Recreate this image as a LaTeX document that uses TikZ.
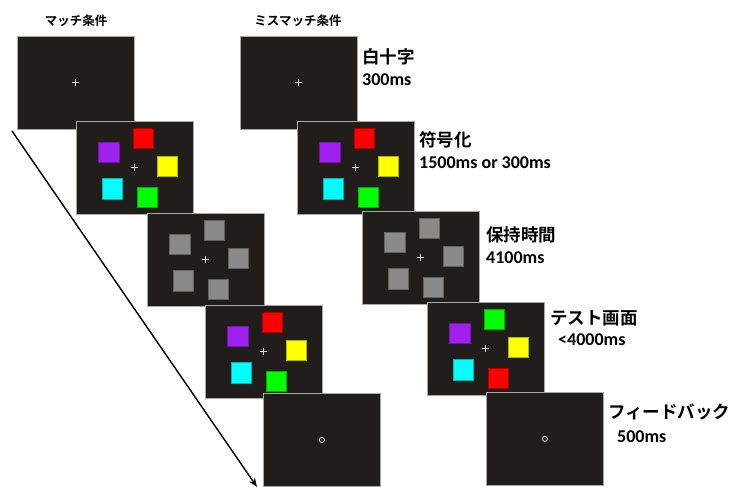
\documentclass[tikz,border=0pt]{standalone}
\usepackage{fontspec}
\setmainfont{Carlito}
\newfontfamily\jpfont{Noto Sans CJK JP}[BoldFont={* Bold}]
\usetikzlibrary{arrows.meta}
\definecolor{panelbg}{HTML}{211D1A}
\definecolor{panelbd}{HTML}{A8A8A8}
\definecolor{cpurple}{HTML}{A020F0}
\definecolor{cred}{HTML}{FF0000}
\definecolor{cyellow}{HTML}{FFFF00}
\definecolor{ccyan}{HTML}{00FFFF}
\definecolor{cgreen}{HTML}{00FF00}
\definecolor{cgray}{HTML}{8A8A8A}
\definecolor{fixcol}{HTML}{E0E0E0}
\tikzset{
  panel/.style={draw=panelbd, fill=panelbg, line width=0.8pt, anchor=north west,
    minimum width=117pt, minimum height=93pt, inner sep=0pt},
  sq/.style={minimum size=20.5pt, inner sep=0pt, line width=0.6pt},
  jplab/.style={font=\jpfont\bfseries\fontsize{17.5}{18}\selectfont, anchor=west, inner sep=0pt},
  numlab/.style={font=\bfseries\fontsize{18}{19}\selectfont, anchor=west, inner sep=0pt},
  toplab/.style={font=\jpfont\bfseries\fontsize{12.5}{13}\selectfont, inner sep=0pt},
  fix/.style={draw=fixcol, line width=0.9pt},
  arr/.style={draw=black, line width=1.4pt, -{Stealth[length=9pt,width=7pt]}},
}
% #1 panel name, #2-#6 colours: left, top, right, bottom-left, bottom
\newcommand\stimsquares[6]{%
  \node[sq, fill=#2, draw=#2!70!black] (#1-a) at ([shift={(-26,-15.5)}]#1.center) {};
  \node[sq, fill=#3, draw=#3!70!black] (#1-b) at ([shift={(8.5,-29.5)}]#1.center) {};
  \node[sq, fill=#4, draw=#4!70!black] (#1-c) at ([shift={(32.5,-1.5)}]#1.center) {};
  \node[sq, fill=#5, draw=#5!70!black] (#1-d) at ([shift={(-22.5,21)}]#1.center) {};
  \node[sq, fill=#6, draw=#6!70!black] (#1-e) at ([shift={(12.5,29.5)}]#1.center) {};
  \draw[fix] ([xshift=-3.5pt]#1.center) -- ([xshift=3.5pt]#1.center)
             ([yshift=-3.5pt]#1.center) -- ([yshift=3.5pt]#1.center);
}
\newcommand\fixcross[1]{%
  \draw[fix] ([xshift=-3.5pt]#1.center) -- ([xshift=3.5pt]#1.center)
             ([yshift=-3.5pt]#1.center) -- ([yshift=3.5pt]#1.center);
}
\begin{document}
\begin{tikzpicture}[x=1pt, y=-1pt]
\useasboundingbox[fill=white] (0,0) rectangle (731,487);

% titles
\node[toplab] (tmatch) at (76,21) {マッチ条件};
\node[toplab] (tmis) at (298,21) {ミスマッチ条件};

% ---- match column ----
\node[panel] (m1) at (17,36) {};
\fixcross{m1}
\node[panel] (m2) at (76,121) {};
\stimsquares{m2}{cpurple}{cred}{cyellow}{ccyan}{cgreen}
\node[panel] (m3) at (147,213) {};
\stimsquares{m3}{cgray}{cgray}{cgray}{cgray}{cgray}
\node[panel] (m4) at (205,305) {};
\stimsquares{m4}{cpurple}{cred}{cyellow}{ccyan}{cgreen}
\node[panel] (m5) at (263,393) {};
\draw[fixcol, line width=0.8pt] (m5.center) circle (2.6pt);

% ---- mismatch column ----
\node[panel] (s1) at (240,36) {};
\fixcross{s1}
\node[panel] (s2) at (297,121) {};
\stimsquares{s2}{cpurple}{cred}{cyellow}{ccyan}{cgreen}
\node[panel] (s3) at (362,211) {};
\stimsquares{s3}{cgray}{cgray}{cgray}{cgray}{cgray}
\node[panel] (s4) at (427,302) {};
\stimsquares{s4}{cpurple}{cgreen}{cyellow}{ccyan}{cred}
\node[panel] (s5) at (486,392) {};
\draw[fixcol, line width=0.8pt] (s5.center) circle (2.6pt);

% time arrow
\coordinate (astart) at (12,131);
\coordinate (aend) at (257,487);
\draw[arr] (astart) -- (aend);

% labels
\node[jplab] (l1) at (362,57) {白十字};
\node[numlab] (n1) at (362,80) {300ms};
\node[jplab] (l2) at (419,140) {符号化};
\node[numlab] (n2) at (419,163) {1500ms or 300ms};
\node[jplab] (l3) at (486,235) {保持時間};
\node[numlab] (n3) at (486,258) {4100ms};
\node[jplab] (l4) at (550,318) {テスト画面};
\node[numlab] (n4) at (558,340) {<4000ms};
\node[jplab] (l5) at (608,412) {フィードバック};
\node[numlab] (n5) at (617,437) {500ms};
\end{tikzpicture}
\end{document}
